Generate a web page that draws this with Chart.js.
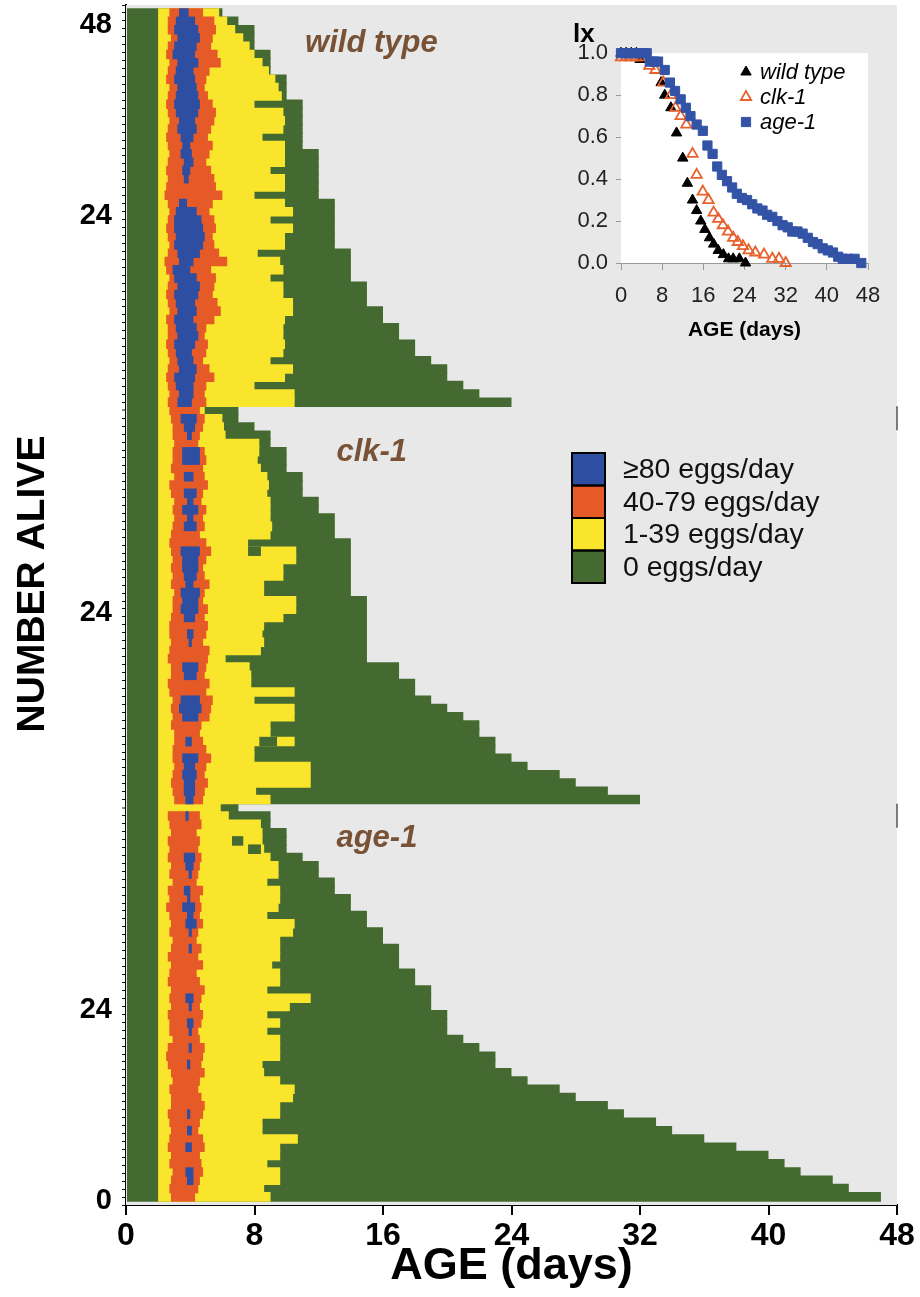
<!DOCTYPE html>
<html><head><meta charset="utf-8">
<script src="https://cdn.jsdelivr.net/npm/chart.js"></script>
<style>
html,body{margin:0;padding:0;background:#fff;}
#wrap{position:relative;width:920px;height:1297px;overflow:hidden;}
#main{position:absolute;left:0;top:0;}
#inset{position:absolute;left:555px;top:15px;}
</style></head><body>
<div id="wrap">
<canvas id="main" width="920" height="1297"></canvas>
<canvas id="inset" width="330" height="330"></canvas>
</div>
<script>
// ---------------- DATA (each panel: 48 worms, listed from the top row down) ----------------
const panelNames = ['wild type', 'clk-1', 'age-1'];
const firstEggDay = 2.0;

// wild type
const wtDeath = [6,7,8,8,8,9,9,9,10,10,10,11,11,11,11,11,11,12,12,12,12,12,12,13,13,13,13,13,13,14,14,14,14,15,15,15,16,16,17,17,18,18,19,20,20,21,22,24];
const wtEggEnd = [5.8,6.3,6.8,7.3,7.7,8.0,8.5,8.9,9.3,9.5, 9.7,8.0,9.8,9.9,9.8,8.5,9.9,9.9,9.9,9.0, 9.9,9.9,8.0,9.9,10.4,9.0,10.4,9.9,9.9,8.2, 9.6,9.8,9.0,9.8,9.8,10.4,10.4,9.9,9.8,9.8, 9.9,9.8,9.0,10.4,9.9,8.0,10.5,10.5];
const wtOrangeStart = [2.7,2.6,2.6,2.8,2.6,2.5,2.7,2.6,2.5,2.7, 2.6,2.5,2.6,2.7,2.6,2.5,2.6,2.7,2.6,2.5, 2.6,2.5,2.4,2.6,2.7,2.6,2.5,2.6,2.7,2.6, 2.4,2.5,2.7,2.6,2.5,2.6,2.7,2.5,2.6,2.6, 2.5,2.6,2.7,2.6,2.5,2.6,2.7,2.6];
const wtOrangeEnd = [4.8,5.5,5.6,5.4,5.3,5.7,5.9,5.2,5.0,4.9, 5.1,5.4,5.6,5.5,5.3,5.1,5.4,5.2,5.0,5.3, 5.5,5.6,6.0,5.4,5.2,5.5,5.6,5.4,5.5,5.8, 6.3,5.3,5.6,5.5,5.4,5.7,5.9,5.5,5.0,4.9, 5.1,5.0,4.8,5.2,5.5,5.0,4.9,5.0];
const wtBlueStart = [3.3,3.1,3.0,3.2,3.0,2.9,3.2,3.1,3.0,3.2, 3.1,3.0,3.1,3.3,3.2,3.4,3.5,3.4,3.6,3.5, 3.6,null,null,3.3,3.1,3.0,3.0,3.1,3.0,3.2, 3.3,2.9,3.0,3.2,3.0,3.1,3.2,3.0,3.1,3.2, 3.0,3.1,3.2,3.3,3.0,3.1,3.3,3.2];
const wtBlueEnd = [3.9,4.3,4.5,4.6,4.4,4.3,4.5,4.2,4.3,4.4, 4.5,4.6,4.5,4.3,4.4,4.2,4.0,4.1,4.2,4.0, 3.9,null,null,3.8,4.4,4.7,4.8,4.9,4.8,4.6, 4.2,4.0,4.4,4.6,4.5,4.3,4.4,4.2,4.4,4.5, 4.3,4.1,4.2,4.4,4.3,4.2,4.2,4.1];
const wtPauses = [];

// clk-1
const clkDeath = [7,7,8,9,9,10,10,10,11,11,11,12,12,13,13,13,14,14,14,14,14,14,14,15,15,15,15,15,15,15,15,17,17,18,18,19,20,21,22,22,23,23,24,25,27,28,30,32];
const clkEggEnd = [4.9,6.0,6.1,6.2,8.3,8.3,8.2,8.4,8.8,8.9, 8.8,9.0,9.0,9.0,9.1,9.0,7.6,10.6,10.6,9.8, 9.8,8.6,8.6,10.6,10.6,9.8,8.6,8.5,8.6,8.4, 6.2,7.7,7.8,7.8,10.5,8.0,10.5,10.5,9.0,9.0, 10.5,8.0,8.0,11.5,11.5,11.5,8.1,9.0];
const clkOrangeStart = [2.7,2.8,2.9,2.9,3.0,2.9,2.9,2.8,3.0,2.7, 2.8,3.0,2.9,3.0,2.9,2.8,2.7,2.8,2.9,2.8, 2.9,2.8,3.0,2.9,2.9,2.8,2.7,2.7,2.8,2.7, 2.6,2.8,2.8,2.6,2.7,2.9,2.8,2.9,2.8,3.0, 3.0,2.9,2.9,3.0,2.9,2.8,2.9,3.0];
const clkOrangeEnd = [4.6,4.9,4.8,4.6,4.5,4.9,5.0,4.8,4.9,5.1, 4.8,4.7,5.0,4.8,4.9,4.6,5.0,5.3,5.0,4.8, 4.9,5.2,4.9,4.8,5.1,4.9,5.1,5.0,4.8,5.2, 5.1,5.0,4.9,5.2,5.0,5.4,5.3,5.2,4.7,4.6, 4.8,5.0,5.3,5.0,4.9,5.1,4.9,4.8];
const clkBlueStart = [null,3.4,3.6,3.8,null,3.5,3.5,null,3.6,null, 3.6,3.8,3.5,3.8,3.6,null,null,3.4,3.5,3.5, 3.6,3.7,3.4,3.5,3.4,3.6,null,3.8,3.9,null, null,3.5,3.6,null,null,3.4,3.3,3.5,null,null, 3.7,null,3.5,3.6,3.5,3.6,3.6,3.7];
const clkBlueEnd = [null,4.4,4.3,4.1,null,4.6,4.6,null,4.2,null, 4.4,4.2,4.5,4.2,4.4,null,null,4.6,4.5,4.5, 4.4,4.2,4.6,4.5,4.5,4.3,null,4.2,4.1,null, null,4.5,4.4,null,null,4.6,4.7,4.5,null,null, 4.1,null,4.5,4.3,4.4,4.3,4.3,4.2];
const clkPauses = [[17,7.6,8.4],[40,8.3,9.4]];

// age-1
const ageDeath = [7,9,9,10,10,10,11,12,12,13,13,14,14,15,15,16,16,17,17,17,18,18,19,19,19,20,20,20,21,22,23,23,24,25,27,28,30,31,33,34,36,38,40,41,42,44,45,47];
const ageEggEnd = [5.9,6.4,8.4,8.5,8.5,8.6,9.0,9.5,9.5,8.8, 9.6,9.6,9.5,8.8,10.5,10.4,9.6,9.6,9.6,9.1, 9.6,9.6,8.8,11.5,10.2,8.8,9.6,8.8,9.6,9.6, 9.6,8.5,8.6,9.6,10.5,10.4,9.6,9.6,8.5,8.5, 10.7,9.6,9.6,8.8,9.6,9.6,8.6,9.0];
const ageOrangeStart = [null,2.6,2.7,2.8,2.6,2.7,2.6,2.8,2.7,2.9, 2.6,2.7,2.5,2.7,2.8,2.7,2.9,2.8,2.6,2.8, 2.7,2.6,2.8,2.7,2.8,2.6,2.7,2.7,2.9,2.6, 2.5,2.6,2.8,2.9,2.7,2.8,2.8,2.6,2.7,2.8, 2.7,2.6,2.8,2.7,2.9,2.8,2.7,2.8];
const ageOrangeEnd = [null,4.6,4.7,4.4,4.6,4.5,4.7,4.6,4.5,4.4, 4.8,4.6,4.7,4.6,4.8,4.5,4.4,4.7,4.5,4.8, 4.4,4.6,4.9,4.7,4.6,4.8,4.7,4.5,4.6,4.9, 4.8,4.7,4.9,4.6,4.5,4.7,4.9,4.8,4.6,4.5, 4.8,4.9,4.6,4.7,4.8,4.6,4.5,4.3];
const ageBlueStart = [null,3.7,null,null,null,null,3.6,3.7,3.9,null, 3.6,3.8,3.5,3.8,3.7,3.9,null,3.9,null,null, null,null,null,3.7,3.9,null,3.8,3.9,null,3.9, null,3.8,null,null,null,null,null,3.8,null,3.8, null,3.7,null,null,3.7,3.8,null,null];
const ageBlueEnd = [null,3.9,null,null,null,null,4.3,4.2,4.1,null, 4.0,4.0,4.3,4.2,4.4,4.1,null,4.1,null,null, null,null,null,4.2,4.1,null,4.2,4.1,null,4.1, null,4.0,null,null,null,null,null,4.0,null,4.1, null,4.1,null,null,4.2,4.2,null,null];
const agePauses = [[4,6.6,7.3],[5,7.6,8.4]];

// tick labels
const xTicks = [0, 8, 16, 24, 32, 40, 48];
const yTickLabels = {0:'0', 24:'24', 74:'24', 124:'24', 148:'48'};
const eggClasses = ['\u226580 eggs/day', '40-79 eggs/day', '1-39 eggs/day', '0 eggs/day'];

// inset survival (lx)
const wtAge = [0,1,2,3,3.7,7.8,8.5,9.7,10.8,12.0,12.9,13.9,14.7,15.5,16.3,17.2,18.0,18.9,19.9,20.9,21.8,23.0,24.2];
const wtLx  = [1,1,1,1,0.97,0.86,0.80,0.74,0.62,0.50,0.38,0.30,0.25,0.20,0.16,0.12,0.09,0.06,0.04,0.02,0.02,0.02,0];
const clkAge = [0,1,2,3,4,5.5,6.7,8.2,9.7,10.6,11.6,12.7,13.9,14.7,15.9,17.0,18.0,18.9,19.8,20.8,21.8,22.7,23.7,24.8,26.1,27.8,29.4,30.7,32.0];
const clkLx  = [0.98,0.98,0.98,0.98,0.98,0.94,0.92,0.86,0.80,0.74,0.70,0.66,0.52,0.42,0.34,0.30,0.24,0.21,0.18,0.15,0.12,0.10,0.08,0.06,0.05,0.04,0.02,0.02,0];
const ageAge = [0,1,2,3,4,5,5.6,6.4,7.2,8.5,9.5,10.5,11.6,12.6,13.5,14.7,15.9,16.8,17.8,18.7,19.6,20.6,21.6,22.5,23.5,24.5,25.5,26.5,27.5,28.4,29.4,30.4,31.4,32.4,33.3,34.3,35.3,36.3,37.3,38.2,39.2,40.2,41.2,42.2,43.1,44.1,45.4,46.7];
const ageLx  = [1,1,1,1,1,1,0.96,0.96,0.96,0.92,0.86,0.82,0.78,0.74,0.70,0.66,0.63,0.56,0.52,0.46,0.42,0.39,0.36,0.33,0.31,0.30,0.28,0.26,0.25,0.23,0.22,0.20,0.18,0.17,0.15,0.15,0.14,0.12,0.10,0.09,0.07,0.06,0.05,0.03,0.02,0.02,0.02,0];

// ---------------- STYLE ----------------
const C_GREEN = '#456a31', C_YELLOW = '#f9e52c', C_ORANGE = '#e65a28', C_BLUE = '#2e4ea2';
const C_BG = '#e8e8e8', C_NAME = '#775236';
const SANS = '"Liberation Sans", Arial, Helvetica, sans-serif';

// ---------------- BUILD ----------------
const ROWS = 48, PANEL = 50;
const panels = [
  {base:100, death:wtDeath, egg:wtEggEnd, oS:wtOrangeStart, oE:wtOrangeEnd, bS:wtBlueStart, bE:wtBlueEnd, pauses:wtPauses},
  {base:50,  death:clkDeath, egg:clkEggEnd, oS:clkOrangeStart, oE:clkOrangeEnd, bS:clkBlueStart, bE:clkBlueEnd, pauses:clkPauses},
  {base:0,   death:ageDeath, egg:ageEggEnd, oS:ageOrangeStart, oE:ageOrangeEnd, bS:ageBlueStart, bE:ageBlueEnd, pauses:agePauses}
];
function rowY(p, j) { return p.base + PANEL - (j + 0.5) * PANEL / ROWS; }

const greenData = [], yellowData = [], orangeData = [], blueData = [], pauseData = [];
panels.forEach(p => {
  for (let j = 0; j < ROWS; j++) {
    const y = rowY(p, j);
    greenData.push({y, x: [0, p.death[j]]});
    yellowData.push({y, x: [firstEggDay, p.egg[j]]});
    if (p.oS[j] != null) orangeData.push({y, x: [p.oS[j], p.oE[j]]});
    if (p.bS[j] != null) blueData.push({y, x: [p.bS[j], p.bE[j]]});
  }
  p.pauses.forEach(([j, s, e]) => pauseData.push({y: rowY(p, j), x: [s, e]}));
});

function barSet(label, data, color, order) {
  return {type: 'bar', label, data, backgroundColor: color, borderWidth: 0, grouped: false,
          barPercentage: 1.2, categoryPercentage: 1, order};
}

const mainDecor = {
  id: 'mainDecor',
  beforeDatasetsDraw(chart) {
    const {ctx, chartArea: a} = chart;
    ctx.save();
    ctx.fillStyle = C_BG;
    ctx.fillRect(a.left, a.top, a.right - a.left, a.bottom - a.top);
    ctx.restore();
  },
  afterDatasetsDraw(chart) {
    const {ctx, chartArea: a} = chart;
    const xs = chart.scales.x, ys = chart.scales.y;
    ctx.save();
    // panel names
    ctx.font = 'italic bold 31px ' + SANS;
    ctx.fillStyle = C_NAME;
    ctx.textAlign = 'left';
    ctx.textBaseline = 'alphabetic';
    const nameX = [11.15, 13.1, 13.1];
    const nameY = [144.6, 93.1, 44.6];
    panelNames.forEach((n, k) => ctx.fillText(n, xs.getPixelForValue(nameX[k]), ys.getPixelForValue(nameY[k])));
    // short right-edge marks at the top of the lower panels
    ctx.strokeStyle = '#555';
    ctx.lineWidth = 1.5;
    [100, 50].forEach(v => {
      const y0 = ys.getPixelForValue(v);
      ctx.beginPath(); ctx.moveTo(a.right, y0); ctx.lineTo(a.right, y0 + 24); ctx.stroke();
    });
    // egg-class legend
    const cols = [C_BLUE, C_ORANGE, C_YELLOW, C_GREEN];
    const lx = 572, ly = 453, w = 33, h = 32.5;
    cols.forEach((c, k) => {
      ctx.fillStyle = c;
      ctx.fillRect(lx, ly + k * h, w, h);
    });
    ctx.strokeStyle = '#000';
    ctx.lineWidth = 2;
    cols.forEach((c, k) => ctx.strokeRect(lx, ly + k * h, w, h));
    ctx.fillStyle = '#111';
    ctx.font = '28.5px ' + SANS;
    ctx.textBaseline = 'middle';
    eggClasses.forEach((t, k) => ctx.fillText(t, 623, ly + k * h + h / 2 + 1));
    // y-axis title
    ctx.save();
    ctx.translate(33, 584);
    ctx.rotate(-Math.PI / 2);
    ctx.font = 'bold 39px ' + SANS;
    ctx.fillStyle = '#000';
    ctx.textAlign = 'center';
    ctx.textBaseline = 'middle';
    ctx.fillText('NUMBER ALIVE', 0, 0);
    ctx.restore();
    ctx.restore();
  }
};

new Chart(document.getElementById('main'), {
  type: 'bar',
  data: {datasets: [
    barSet('0 eggs/day', greenData, C_GREEN, 5),
    barSet('1-39 eggs/day', yellowData, C_YELLOW, 4),
    barSet('40-79 eggs/day', orangeData, C_ORANGE, 3),
    barSet('>=80 eggs/day', blueData, C_BLUE, 2),
    barSet('pause', pauseData, C_GREEN, 1)
  ]},
  options: {
    indexAxis: 'y',
    responsive: false,
    animation: false,
    events: [],
    layout: {padding: {left: 0, right: 23, top: 5, bottom: 0}},
    plugins: {legend: {display: false}, tooltip: {enabled: false}},
    scales: {
      x: {
        type: 'linear', position: 'bottom', min: 0, max: 48, z: 1,
        afterBuildTicks: s => { s.ticks = xTicks.map(v => ({value: v})); },
        ticks: {font: {family: SANS, size: 32, weight: 'bold'}, color: '#000', padding: 2, maxRotation: 0, autoSkip: false},
        grid: {drawOnChartArea: false, drawTicks: true, tickLength: 10, color: '#000', lineWidth: 2},
        border: {display: true, color: '#000', width: 2},
        title: {display: true, text: 'AGE (days)', color: '#000', font: {family: SANS, size: 45, weight: 'bold'}, padding: {top: 0, bottom: 3}},
        afterFit: s => { s.height = 92; s.paddingLeft = 0; s.paddingRight = 0; }
      },
      y: {
        type: 'linear', position: 'left', min: 0, max: 150, z: 1,
        afterBuildTicks: s => { const t = []; for (let v = 0; v <= 150; v++) t.push({value: v}); s.ticks = t; },
        ticks: {autoSkip: false, font: {family: SANS, size: 29, weight: 'bold'}, color: '#000', padding: 10,
                callback: v => (yTickLabels[v] !== undefined ? yTickLabels[v] : '')},
        grid: {
          drawOnChartArea: true, drawTicks: true, tickLength: 4, tickColor: '#111', tickWidth: 1,
          color: ctx => (ctx.tick && (ctx.tick.value === 50 || ctx.tick.value === 100)) ? '#111' : 'rgba(0,0,0,0)',
          lineWidth: ctx => (ctx.tick && (ctx.tick.value === 50 || ctx.tick.value === 100)) ? 2 : 1
        },
        border: {display: true, color: '#000', width: 2},
        title: {display: false},
        afterFit: s => { s.width = 126; s.paddingTop = 0; s.paddingBottom = 0; }
      }
    }
  },
  plugins: [mainDecor]
});

// ---------------- INSET ----------------
const insetDecor = {
  id: 'insetDecor',
  beforeDatasetsDraw(chart) {
    const {ctx, chartArea: a} = chart;
    ctx.save();
    ctx.fillStyle = '#ffffff';
    ctx.fillRect(a.left, a.top, a.right - a.left, a.bottom - a.top);
    ctx.restore();
  },
  afterDatasetsDraw(chart) {
    const {ctx} = chart;
    ctx.save();
    const rows = [57, 82, 107];
    chart.data.datasets.slice().sort((a, b) => a.legendRank - b.legendRank).forEach((ds, k) => {
      ctx.fillStyle = ds.backgroundColor;
      ctx.strokeStyle = ds.borderColor;
      ctx.lineWidth = ds.borderWidth;
      Chart.helpers.drawPoint(ctx, {pointStyle: ds.pointStyle, radius: ds.pointRadius, borderWidth: ds.borderWidth, rotation: 0}, 191, rows[k]);
      ctx.fillStyle = '#000';
      ctx.font = 'italic 22px ' + SANS;
      ctx.textAlign = 'left';
      ctx.textBaseline = 'middle';
      ctx.fillText(ds.label, 205, rows[k] + 1);
    });
    ctx.restore();
  }
};
const toPts = (xs, ys) => xs.map((x, i) => ({x, y: ys[i]}));

new Chart(document.getElementById('inset'), {
  type: 'scatter',
  data: {datasets: [
    {label: 'wild type', legendRank: 0, data: toPts(wtAge, wtLx), pointStyle: 'triangle', pointRadius: 6,
     backgroundColor: '#000000', borderColor: '#000000', borderWidth: 1, order: 2, clip: false},
    {label: 'clk-1', legendRank: 1, data: toPts(clkAge, clkLx), pointStyle: 'triangle', pointRadius: 6,
     backgroundColor: 'rgba(255,255,255,0)', borderColor: '#e8602c', borderWidth: 1.8, order: 1, clip: false},
    {label: 'age-1', legendRank: 2, data: toPts(ageAge, ageLx), pointStyle: 'rect', pointRadius: 6.5,
     backgroundColor: '#3353a7', borderColor: '#3353a7', borderWidth: 1, order: 0, clip: false}
  ]},
  options: {
    responsive: false, animation: false, events: [],
    layout: {padding: {left: 18, right: 17, top: 4, bottom: 0}},
    plugins: {
      legend: {display: false}, tooltip: {enabled: false},
      title: {display: true, text: 'lx', align: 'start', color: '#000', font: {family: SANS, size: 26, weight: 'bold'}, padding: {top: 0, bottom: 3}}
    },
    scales: {
      x: {
        type: 'linear', min: 0, max: 48,
        afterBuildTicks: s => { s.ticks = xTicks.map(v => ({value: v})); },
        ticks: {font: {family: SANS, size: 22}, color: '#222', padding: 13, maxRotation: 0, autoSkip: false},
        grid: {drawOnChartArea: false, tickLength: 7, color: '#999'},
        border: {color: '#999'},
        title: {display: true, text: 'AGE (days)', color: '#000', font: {family: SANS, size: 21, weight: 'bold'}, padding: {top: 0, bottom: 2}},
        afterFit: s => { s.height = 82; s.paddingLeft = 0; s.paddingRight = 0; }
      },
      y: {
        type: 'linear', min: 0, max: 1,
        ticks: {stepSize: 0.2, font: {family: SANS, size: 22}, color: '#222', padding: 8, callback: v => Number(v).toFixed(1)},
        grid: {drawOnChartArea: false, tickLength: 5, color: '#999'},
        border: {color: '#999'},
        afterFit: s => { s.width = 48; }
      }
    }
  },
  plugins: [insetDecor]
});
</script>
</body></html>
